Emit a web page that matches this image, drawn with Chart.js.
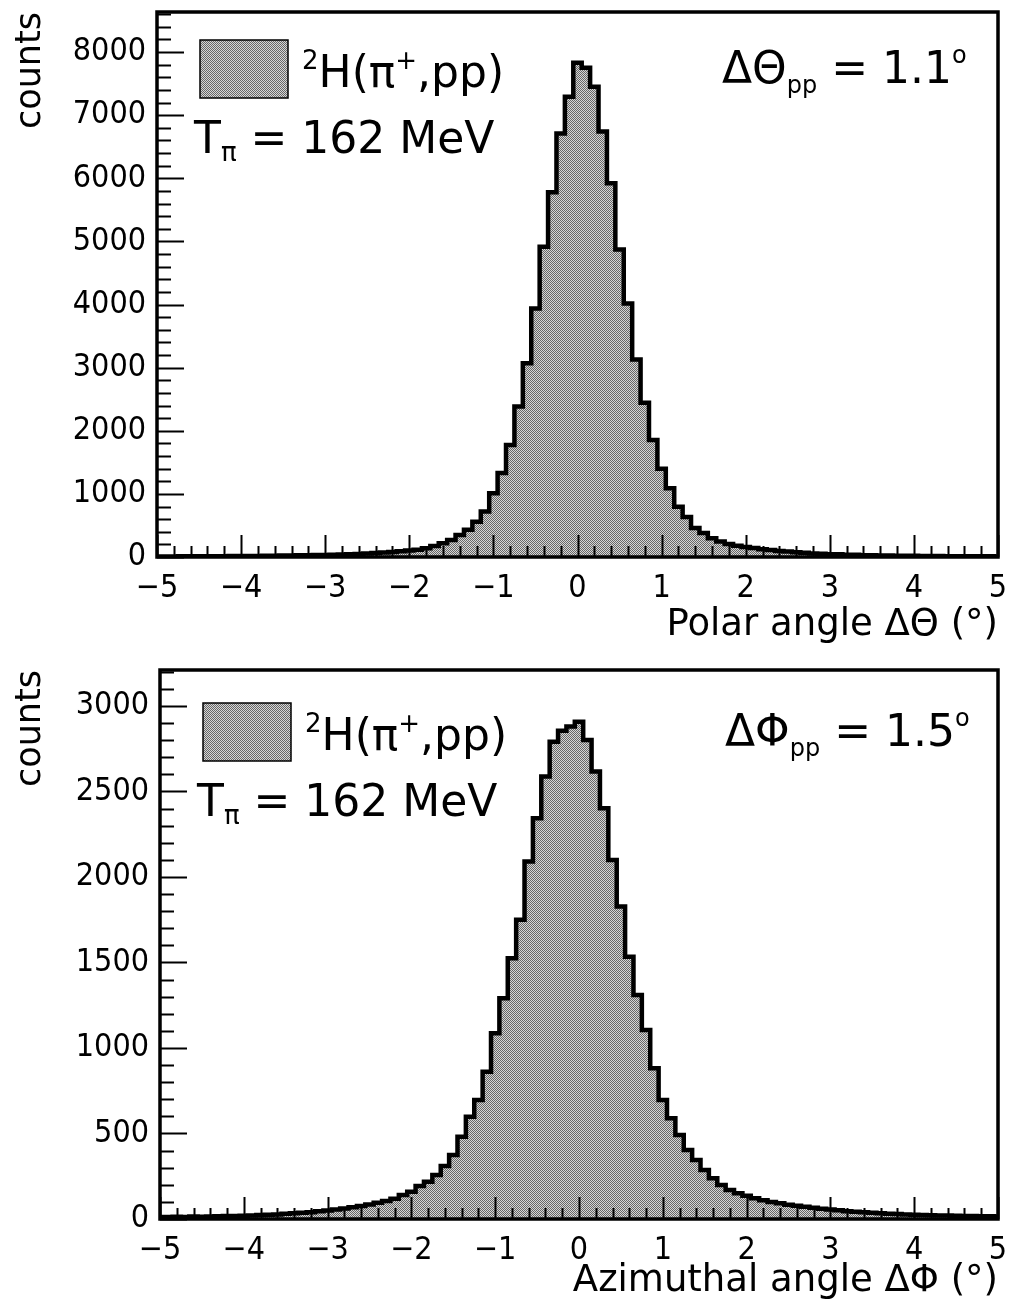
<!DOCTYPE html>
<html>
<head>
<meta charset="utf-8">
<script src="https://cdn.jsdelivr.net/npm/chart.js@4.4.1/dist/chart.umd.min.js"></script>
<style>
  html, body { margin: 0; padding: 0; background: #fff; }
  .panel { position: absolute; left: 0; width: 1012px; height: 656px; }
  #top { top: 0; }
  #bottom { top: 656px; }
</style>
</head>
<body>
<div class="panel" id="top"><canvas id="thetaChart" width="1012" height="656"></canvas></div>
<div class="panel" id="bottom"><canvas id="phiChart" width="1012" height="656"></canvas></div>
<script>
// bins are 0.1 deg wide, centred on -5.0 ... 5.0
const binStart = -5.0;
const binWidth = 0.1;

// polar angle difference, counts per bin
const thetaCounts = [
  7, 9, 8, 10, 11, 10, 12, 13, 12, 14,
  16, 15, 17, 19, 20, 22, 23, 26, 27, 31,
  33, 37, 40, 45, 49, 56, 62, 71, 79, 91,
  102, 116, 138, 175, 218, 270, 350, 430, 560, 720,
  1010, 1330, 1775, 2385, 3070, 3935, 4915, 5780, 6710, 7290,
  7830,
  7750, 7450, 6740, 5920, 4870, 4015, 3130, 2445, 1855, 1400,
  1090, 795, 635, 460, 380, 298, 246, 207, 180, 160,
  143, 124, 111, 95, 86, 74, 67, 57, 53, 45,
  42, 36, 34, 29, 28, 24, 23, 20, 19, 18,
  16, 16, 14, 13, 13, 11, 12, 10, 10, 9
];

// azimuthal angle difference, counts per bin
const phiCounts = [
  12, 11, 13, 12, 14, 13, 15, 16, 17, 18,
  19, 21, 23, 25, 27, 30, 33, 36, 40, 45,
  50, 55, 61, 68, 76, 85, 95, 105, 118, 140,
  160, 193, 218, 257, 310, 374, 481, 598, 696, 861,
  1086, 1290, 1524, 1749, 2090, 2343, 2587, 2791, 2855, 2880,
  2908,
  2801, 2616, 2402, 2099, 1827, 1534, 1310, 1105, 881, 696,
  589, 491, 404, 345, 287, 238, 199, 170, 150, 136,
  121, 110, 99, 92, 84, 77, 71, 66, 60, 55,
  51, 46, 43, 39, 36, 34, 31, 29, 27, 25,
  24, 22, 21, 20, 19, 18, 17, 16, 16, 15
];

const xTickLabels = [-5, -4, -3, -2, -1, 0, 1, 2, 3, 4, 5];
const thetaYTicks = [0, 1000, 2000, 3000, 4000, 5000, 6000, 7000, 8000];
const phiYTicks = [0, 500, 1000, 1500, 2000, 2500, 3000];

const textFamily = "'DejaVu Sans', sans-serif";
const tickFont = { family: "'Liberation Sans Narrow', 'DejaVu Sans Condensed', 'Liberation Sans', sans-serif", size: 32 };

function makeShade() {
  const c = document.createElement('canvas');
  c.width = 2; c.height = 2;
  const g = c.getContext('2d');
  g.fillStyle = '#d6d6d6';
  g.fillRect(0, 0, 2, 2);
  g.fillStyle = '#676767';
  g.fillRect(0, 0, 1, 1);
  g.fillRect(1, 1, 1, 1);
  return g.createPattern(c, 'repeat');
}
const shade = makeShade();

function drawRich(ctx, x, y, parts) {
  parts.forEach(p => {
    ctx.font = p.size + 'px ' + textFamily;
    ctx.fillText(p.t, x, y + (p.dy || 0));
    x += ctx.measureText(p.t).width;
  });
}

// frame, inward ticks and the text boxes
const histDecor = {
  id: 'histDecor',
  afterDatasetsDraw(chart, args, opts) {
    const { ctx, chartArea: a, scales: { x, y } } = chart;
    ctx.save();
    ctx.strokeStyle = '#000';
    ctx.lineWidth = 2;
    ctx.beginPath();
    let n = Math.round((x.max - x.min) / opts.minorX);
    for (let i = 0; i <= n; i++) {
      const v = x.min + i * opts.minorX;
      const major = Math.abs(v - Math.round(v)) < 1e-6;
      const px = Math.round(x.getPixelForValue(v)) + 0.5;
      ctx.moveTo(px, a.bottom);
      ctx.lineTo(px, a.bottom - (major ? 22 : 11));
    }
    n = Math.floor(y.max / opts.minorY);
    for (let i = 0; i <= n; i++) {
      const v = i * opts.minorY;
      const major = v % opts.majorY === 0;
      const py = Math.round(y.getPixelForValue(v)) + 0.5;
      ctx.moveTo(a.left, py);
      ctx.lineTo(a.left + (major ? 27 : 14), py);
    }
    ctx.stroke();
    ctx.lineWidth = 3.5;
    ctx.strokeRect(a.left, a.top, a.right - a.left, a.bottom - a.top);
    ctx.restore();
  },
  afterDraw(chart, args, opts) {
    const { ctx, chartArea: a } = chart;
    ctx.save();
    ctx.fillStyle = shade;
    ctx.fillRect(a.left + 43, a.top + opts.boxTop, 88, 58);
    ctx.strokeStyle = '#000';
    ctx.lineWidth = 1.5;
    ctx.strokeRect(a.left + 43, a.top + opts.boxTop, 88, 58);
    ctx.fillStyle = '#000';
    ctx.textBaseline = 'alphabetic';
    ctx.textAlign = 'left';
    drawRich(ctx, a.left + 145, a.top + opts.boxTop + 47, [
      { t: '2', size: 26, dy: -18 }, { t: 'H(\u03c0', size: 44 },
      { t: '+', size: 26, dy: -18 }, { t: ',pp)', size: 44 }
    ]);
    drawRich(ctx, a.left + 37, a.top + opts.boxTop + 113, [
      { t: 'T', size: 44 }, { t: '\u03c0', size: 26, dy: 8 },
      { t: ' = 162 MeV', size: 44 }
    ]);
    drawRich(ctx, a.left + 565, a.top + opts.boxTop + 43, [
      { t: '\u0394' + opts.sym, size: 44 }, { t: 'pp', size: 24, dy: 10 },
      { t: ' = ' + opts.width, size: 44 }, { t: 'o', size: 24, dy: -20 }
    ]);
    ctx.restore();
  }
};

function makeChart(id, counts, yTicks, yMax, xTitle, decor) {
  const points = counts.map((c, i) => ({ x: binStart + i * binWidth, y: c }));
  return new Chart(document.getElementById(id), {
    type: 'line',
    data: {
      datasets: [{
        data: points,
        stepped: 'middle',
        fill: 'origin',
        backgroundColor: shade,
        borderColor: '#000',
        borderWidth: 4.5,
        borderJoinStyle: 'miter',
        pointRadius: 0
      }]
    },
    options: {
      responsive: false,
      animation: false,
      layout: { padding: { top: decor.padTop, right: 14, left: 0, bottom: 0 } },
      plugins: {
        legend: { display: false },
        tooltip: { enabled: false },
        histDecor: decor
      },
      scales: {
        x: {
          type: 'linear',
          min: -5,
          max: 5,
          afterFit: s => { s.height = decor.xHeight; s.paddingLeft = 0; s.paddingRight = 0; },
          afterBuildTicks: s => { s.ticks = xTickLabels.map(v => ({ value: v })); },
          grid: { display: false, drawTicks: false },
          border: { display: false },
          ticks: {
            padding: 12, color: '#000', font: tickFont, autoSkip: false, maxRotation: 0,
            callback: v => (v < 0 ? '\u2212' + (-v) : String(v))
          },
          title: {
            display: true, text: xTitle, align: 'end', color: '#000',
            font: { family: textFamily, size: 37 }, padding: { top: 0, bottom: decor.titlePad }
          }
        },
        y: {
          min: 0,
          max: yMax,
          afterFit: s => { s.width = decor.yWidth; s.paddingTop = 0; s.paddingBottom = 0; },
          afterBuildTicks: s => { s.ticks = yTicks.map(v => ({ value: v })); },
          grid: { display: false, drawTicks: false },
          border: { display: false },
          ticks: { padding: 11, color: '#000', font: tickFont, callback: v => String(v) },
          title: {
            display: true, text: 'counts', align: 'end', color: '#000',
            font: { family: textFamily, size: 35 }, padding: { top: 10, bottom: 0 }
          }
        }
      }
    },
    plugins: [histDecor]
  });
}

makeChart('thetaChart', thetaCounts, thetaYTicks, 8634, 'Polar angle \u0394\u0398 (\u00b0)', {
  padTop: 12, xHeight: 99, yWidth: 157, titlePad: 8,
  minorX: 0.2, minorY: 200, majorY: 1000, boxTop: 28, sym: '\u0398', width: '1.1'
});
makeChart('phiChart', phiCounts, phiYTicks, 3210, 'Azimuthal angle \u0394\u03a6 (\u00b0)', {
  padTop: 14, xHeight: 93, yWidth: 160, titlePad: 8,
  minorX: 0.2, minorY: 100, majorY: 500, boxTop: 33, sym: '\u03a6', width: '1.5'
});
</script>
</body>
</html>
